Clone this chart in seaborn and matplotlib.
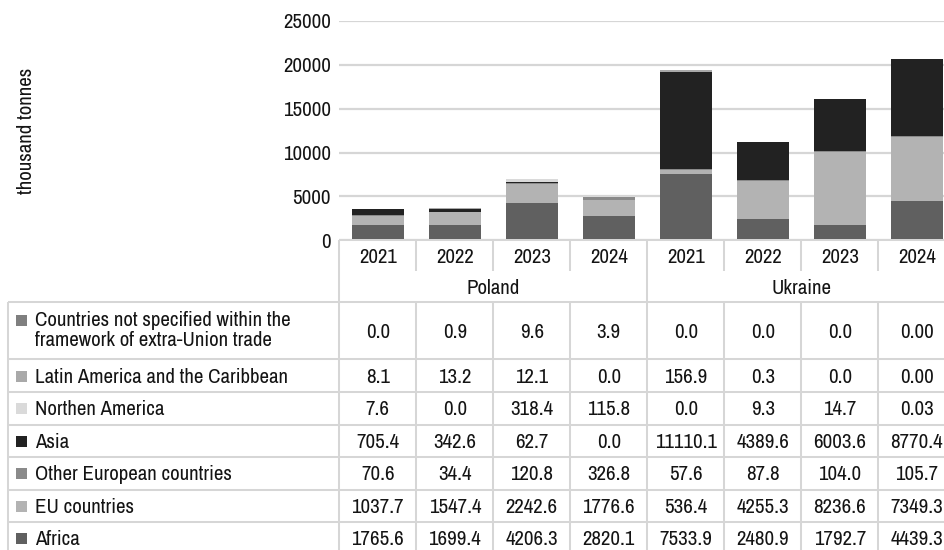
import numpy as np
import matplotlib
matplotlib.use("Agg")
import matplotlib.pyplot as plt
import seaborn as sns

# ---- data -------------------------------------------------------------
countries = ["Poland", "Ukraine"]
years = ["2021", "2022", "2023", "2024"]

region_labels = [
    "Countries not specified within the\nframework of extra-Union trade",
    "Latin America and the Caribbean",
    "Northen America",
    "Asia",
    "Other European countries",
    "EU countries",
    "Africa",
]
region_colors = ["#7f7f7f", "#a9a9a9", "#dadada", "#222222", "#8a8a8a", "#b3b3b3", "#606060"]

not_specified = ["0.0", "0.9", "9.6", "3.9", "0.0", "0.0", "0.0", "0.00"]
latin_america = ["8.1", "13.2", "12.1", "0.0", "156.9", "0.3", "0.0", "0.00"]
northern_america = ["7.6", "0.0", "318.4", "115.8", "0.0", "9.3", "14.7", "0.03"]
asia = ["705.4", "342.6", "62.7", "0.0", "11110.1", "4389.6", "6003.6", "8770.4"]
other_european = ["70.6", "34.4", "120.8", "326.8", "57.6", "87.8", "104.0", "105.7"]
eu_countries = ["1037.7", "1547.4", "2242.6", "1776.6", "536.4", "4255.3", "8236.6", "7349.3"]
africa = ["1765.6", "1699.4", "4206.3", "2820.1", "7533.9", "2480.9", "1792.7", "4439.3"]

y_ticks = [0, 5000, 10000, 15000, 20000, 25000]
y_label = "thousand tonnes"

# table rows, top to bottom (bars stack in the reverse order)
table_rows = [not_specified, latin_america, northern_america, asia,
              other_european, eu_countries, africa]

# ---- style ------------------------------------------------------------
sns.set_style("white")
plt.rcParams["font.family"] = ["Archivo Narrow", "Liberation Sans", "DejaVu Sans"]
FS = 15
TXT = "#141414"
LINE = "#d6d6d6"
LW = 1.45
DY = 1.5                # nudge so glyphs sit optically centred in their cells

W, H = 944, 550
fig = plt.figure(figsize=(W / 100, H / 100), dpi=100)

# pixel layout
x_left = 339.3          # left edge of the first data column
col_w = 77.0            # width of one data column
y_base = 240.3          # zero line / table top
y_top = 21.0            # 25000 line

ax = fig.add_axes([x_left / W, (H - y_base) / H, 8 * col_w / W, (y_base - y_top) / H])

keys = [f"{c} {y}" for c in countries for y in years]
stack_vals = np.array([[float(v) for v in row] for row in table_rows[::-1]])
stack_cols = region_colors[::-1]
cum = np.cumsum(stack_vals, axis=0)

# stacked bars: draw cumulative totals from the top layer downwards
for i in reversed(range(len(stack_vals))):
    sns.barplot(x=keys, y=cum[i], order=keys, color=stack_cols[i], saturation=1,
                width=0.67, linewidth=0, errorbar=None, ax=ax, zorder=3)

ax.set_ylim(0, 25000)
ax.set_xlim(-0.5, 7.5)
ax.set_yticks(y_ticks)
ax.set_yticklabels([str(t) for t in y_ticks])
ax.tick_params(axis="y", length=0, pad=6, labelsize=FS, colors=TXT)
ax.tick_params(axis="x", length=0, labelbottom=False)
ax.set_xlabel("")
ax.set_ylabel("")
ax.yaxis.grid(True, color=LINE, lw=1.6)
ax.set_axisbelow(True)
for s in ax.spines.values():
    s.set_visible(False)

fig.text(27 / W, 1 - 131 / H, y_label, rotation=90, ha="center", va="center",
         fontsize=FS, color=TXT)

# ---- data table -------------------------------------------------------
tb = fig.add_axes([0, 0, 1, 1], zorder=5)
tb.set_xlim(0, W)
tb.set_ylim(H, 0)
tb.axis("off")
tb.patch.set_alpha(0)


def hline(y, x0, x1):
    tb.plot([x0, x1], [y, y], color=LINE, lw=LW, solid_capstyle="butt")


def vline(x, y0, y1):
    tb.plot([x, x], [y0, y1], color=LINE, lw=LW, solid_capstyle="butt")


x_table = 8.3
year_row_bottom = 270.5
body_top = 301.7
row_edges = [body_top, 359.3, 392.0, 424.5, 457.0, 489.5, 522.0, 554.5]
x_right = x_left + 8 * col_w

# header
hline(y_base, x_left, x_right)
vline(x_left, y_base, H)
for k in range(1, 8):
    if k == 4:
        vline(x_left + k * col_w, y_base, H)
    else:
        vline(x_left + k * col_w, y_base, year_row_bottom)
        vline(x_left + k * col_w, body_top, H)
vline(x_right, y_base, H)

for j, key in enumerate(keys):
    tb.text(x_left + (j + 0.5) * col_w, 256.0 + DY, key.split(" ")[1], ha="center",
            va="center", fontsize=FS, color=TXT)
for c, name in enumerate(countries):
    tb.text(x_left + (4 * c + 2) * col_w, 286.5 + DY, name, ha="center", va="center",
            fontsize=FS, color=TXT)

# body
vline(x_table, body_top, H)
for y in row_edges:
    hline(y, x_table, x_right)

for r, (label, color, row) in enumerate(zip(region_labels, region_colors, table_rows)):
    y0, y1 = row_edges[r], row_edges[r + 1]
    yc = (y0 + y1) / 2
    lines = label.split("\n")
    if len(lines) == 1:
        ys = [yc]
    else:
        ys = [yc - 11.0, yc + 9.0]
    tb.add_patch(plt.Rectangle((16, ys[0] - 5.5 + 0.5), 11, 11, facecolor=color,
                               edgecolor="none"))
    for txt, yy in zip(lines, ys):
        tb.text(35, yy + DY, txt, ha="left", va="center", fontsize=FS, color=TXT)
    for j, val in enumerate(row):
        tb.text(x_left + (j + 0.5) * col_w, yc + DY, val, ha="center", va="center",
                fontsize=FS, color=TXT)

fig.savefig("out.png", dpi=100)
